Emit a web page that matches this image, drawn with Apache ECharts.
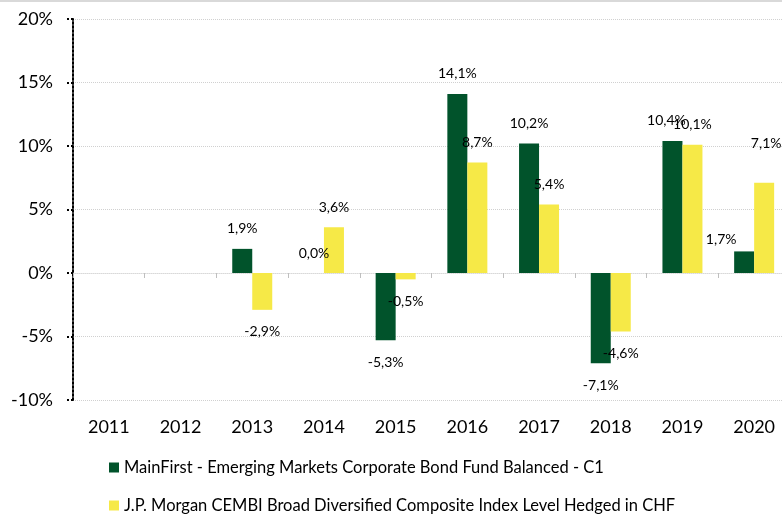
<!DOCTYPE html>
<html>
<head>
<meta charset="utf-8">
<script src="https://cdn.jsdelivr.net/npm/echarts@6/dist/echarts.min.js"></script>
<style>
  html, body { margin: 0; padding: 0; background: #fff; }
  #chart { width: 782px; height: 517px; }
</style>
</head>
<body>
<div id="chart"></div>
<script>
// annual performance in %
const years = ["2011", "2012", "2013", "2014", "2015", "2016", "2017", "2018", "2019", "2020"];
const mainFirst = [null, null, 1.9, 0.0, -5.3, 14.1, 10.2, -7.1, 10.4, 1.7];
const jpMorgan = [null, null, -2.9, 3.6, -0.5, 8.7, 5.4, -4.6, 10.1, 7.1];
const yMin = -10;
const yMax = 20;
const yStep = 5;

const seriesNames = [
  "MainFirst - Emerging Markets Corporate Bond Fund Balanced - C1",
  "J.P. Morgan CEMBI Broad Diversified Composite Index Level Hedged in CHF",
];

// labels that sit off their usual spot in the original
const labelShift = [
  { 8: [-6, 0], 9: [-23, 8] },
  { 9: [2, -19] },
];

const font = "Lato";

function fmt(v) {
  return v.toFixed(1).replace(".", ",") + "%";
}

function toItems(values, shifts) {
  return values.map((v, i) => {
    if (v === null) return "-";
    return {
      value: v,
      label: {
        position: v < 0 ? "bottom" : "top",
        distance: v < 0 ? 15 : 13,
        offset: shifts[i] || [0, 0],
      },
    };
  });
}

function legendFor(name, top) {
  return {
    left: 104,
    top: top,
    itemWidth: 10,
    itemHeight: 10,
    icon: "rect",
    textStyle: { fontFamily: font, fontSize: 16.5, color: "#000" },
    data: [name],
  };
}

const chart = echarts.init(document.getElementById("chart"));

const option = {
  animation: false,
  backgroundColor: "#fff",
  textStyle: { fontFamily: font },
  graphic: [
    {
      type: "rect",
      shape: { x: 0, y: 0, width: 782, height: 2 },
      style: { fill: "#d9d9d9" },
    },
  ],
  grid: { left: 73, top: 19, width: 717, height: 381, containLabel: false, outerBoundsMode: "none" },
  legend: [legendFor(seriesNames[0], 454), legendFor(seriesNames[1], 492)],
  xAxis: {
    type: "category",
    data: years,
    axisLine: { onZero: true, lineStyle: { color: "#d9d9d9", type: "dotted" } },
    axisTick: { show: true, length: 5, lineStyle: { color: "#bfbfbf" } },
    axisLabel: { margin: 18, fontSize: 18, color: "#000", fontFamily: font },
    splitLine: { show: false },
  },
  yAxis: {
    type: "value",
    min: yMin,
    max: yMax,
    interval: yStep,
    axisLine: { show: true, lineStyle: { color: "#000", type: [2, 2], width: 2 } },
    axisTick: { show: true, length: 6, lineStyle: { color: "#000", type: [2, 2], width: 2 } },
    axisLabel: { formatter: "{value}%", margin: 20, fontSize: 18, color: "#000", fontFamily: font },
    splitLine: { lineStyle: { color: "#d0d0d0", type: "dotted", width: 1 } },
  },
  series: [
    {
      name: seriesNames[0],
      type: "bar",
      barWidth: 20,
      barGap: "0%",
      itemStyle: { color: "#01532B" },
      label: { show: true, formatter: (p) => fmt(p.value), fontSize: 14, color: "#000", fontFamily: font },
      data: toItems(mainFirst, labelShift[0]),
    },
    {
      name: seriesNames[1],
      type: "bar",
      barWidth: 20,
      barGap: "0%",
      itemStyle: { color: "#F6E947" },
      label: { show: true, formatter: (p) => fmt(p.value), fontSize: 14, color: "#000", fontFamily: font },
      data: toItems(jpMorgan, labelShift[1]),
    },
  ],
};

chart.setOption(option);
</script>
</body>
</html>
